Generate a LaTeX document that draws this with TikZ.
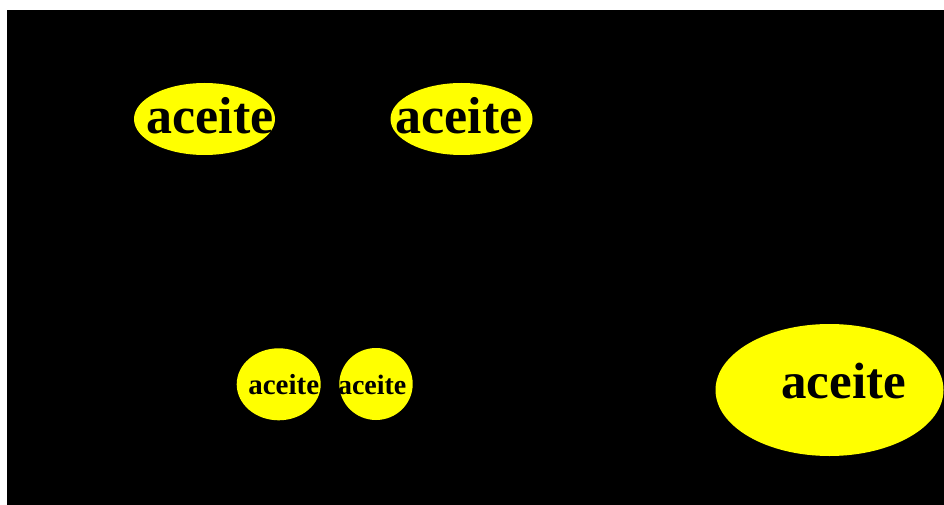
\documentclass[tikz,border=0pt]{standalone}
\usepackage{fontspec}
\setmainfont{Liberation Serif}
\usetikzlibrary{shapes.geometric}
\tikzset{
  blob/.style={ellipse, fill={rgb,255:red,255;green,255;blue,0}, draw=none, inner sep=0pt},
  lbl/.style={anchor=base, inner sep=0pt, text=black, font=\bfseries}
}
\begin{document}
\begin{tikzpicture}[x=1pt,y=-1pt]
\useasboundingbox (0,0) rectangle (944,505);
\fill[white] (0,0) rectangle (944,505);
\fill[black] (7,10) rectangle (944,505);
% ellipses
\node[blob, minimum width=141pt, minimum height=72pt] (e1) at (204.5,119) {};
\node[blob, minimum width=142pt, minimum height=72pt] (e2) at (461.5,119) {};
\node[blob, minimum width=84pt, minimum height=72pt] (e3) at (278.7,384.3) {};
\node[blob, minimum width=73.4pt, minimum height=72pt] (e4) at (376,384) {};
\node[blob, minimum width=228pt, minimum height=132pt] (e5) at (829.5,390) {};
% labels
\node[lbl, font=\bfseries\fontsize{52}{52}\selectfont] (t1) at (210.3,134) {aceite};
\node[lbl, font=\bfseries\fontsize{52}{52}\selectfont] (t2) at (459,134) {aceite};
\node[lbl, font=\bfseries\fontsize{29}{29}\selectfont] (t3) at (283.7,394) {aceite};
\node[lbl, font=\bfseries\fontsize{28}{28}\selectfont] (t4) at (372.2,394) {aceite};
\node[lbl, font=\bfseries\fontsize{51}{51}\selectfont] (t5) at (843.5,398) {aceite};
\end{tikzpicture}
\end{document}
